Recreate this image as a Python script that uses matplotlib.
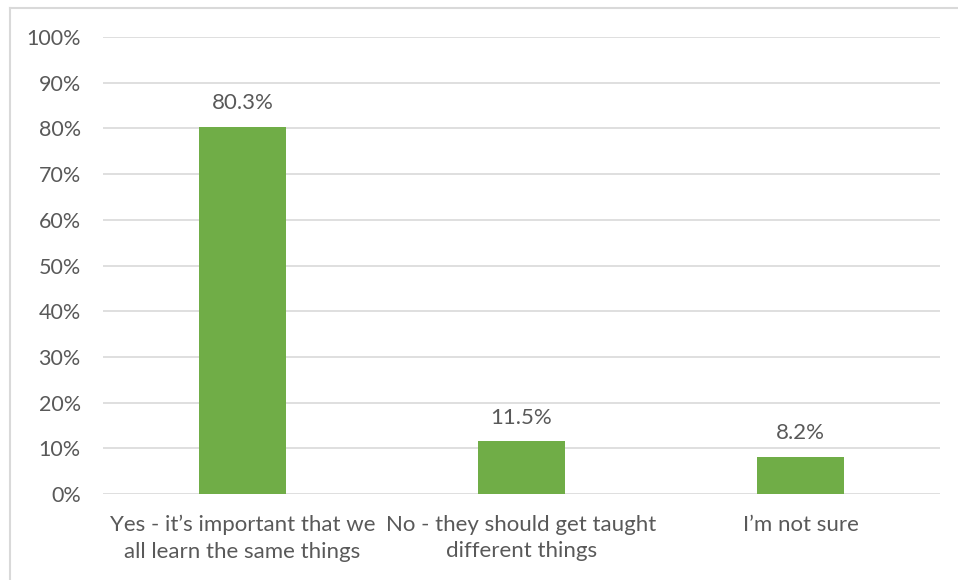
import matplotlib.pyplot as plt
from matplotlib.lines import Line2D
from matplotlib.ticker import FuncFormatter

categories = ["Yes - it\u2019s important that we\nall learn the same things",
              "No - they should get taught\ndifferent things",
              "I\u2019m not sure"]
values = [80.3, 11.5, 8.2]
yticks = list(range(0, 101, 10))

plt.rcParams['font.family'] = ['Lato', 'DejaVu Sans']
text_col = '#595959'

fig = plt.figure(figsize=(9.58, 5.8), dpi=100)
ax = fig.add_axes([103 / 958, 86 / 580, 837 / 958, 457 / 580])

x = range(len(values))
bars = ax.bar(x, values, width=0.31, color='#70AD47', zorder=3)
for b, v in zip(bars, values):
    ax.text(b.get_x() + b.get_width() / 2, v + 3, f"{v:.1f}%", ha='center', va='bottom',
            fontsize=16, color=text_col)

ax.set_xlim(-0.5, 2.5)
ax.set_ylim(0, 100)
ax.set_yticks(yticks)
ax.yaxis.set_major_formatter(FuncFormatter(lambda v, p: f"{v:.0f}%"))
ax.set_xticks(list(x))
ax.set_xticklabels(categories, fontsize=16, color=text_col, linespacing=1.4)
ax.tick_params(axis='y', labelsize=15.5, labelcolor=text_col, length=0, pad=16)
ax.tick_params(axis='x', length=0, pad=15)
ax.grid(axis='y', color='#D9D9D9', linewidth=1.2, zorder=0)
for s in ax.spines.values():
    s.set_visible(False)

# outer chart border (only top and left visible in the crop)
fig.add_artist(Line2D([10 / 958, 10 / 958], [0, 1 - 8 / 580], transform=fig.transFigure,
                      color='#D9D9D9', linewidth=1.5))
fig.add_artist(Line2D([10 / 958, 1], [1 - 8 / 580, 1 - 8 / 580], transform=fig.transFigure,
                      color='#D9D9D9', linewidth=1.5))

fig.savefig('out.png', dpi=100)
